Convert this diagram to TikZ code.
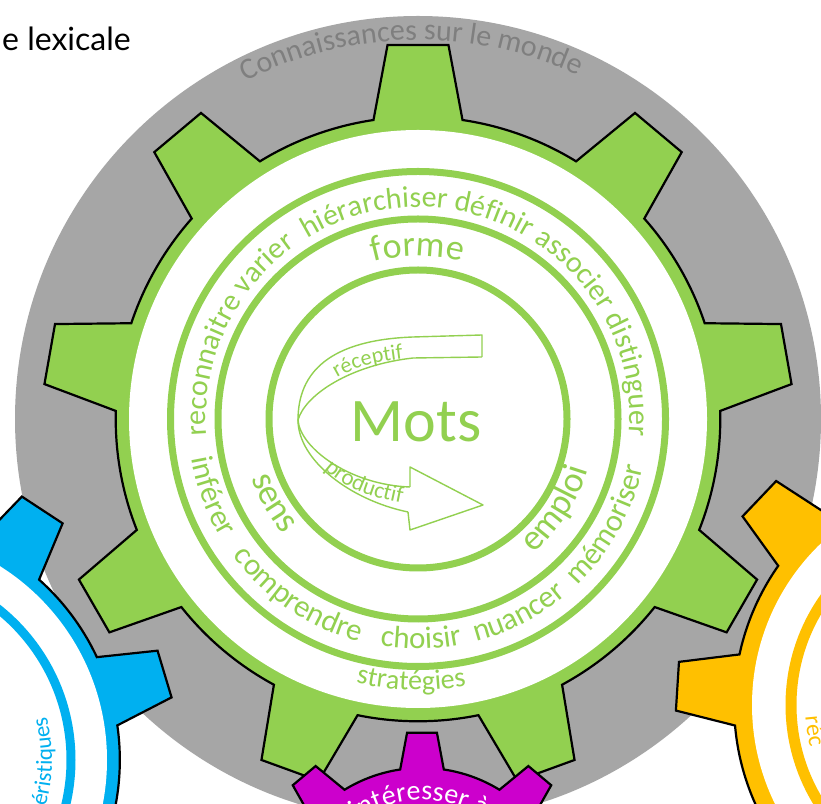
\documentclass[tikz,border=0pt]{standalone}
\usepackage{fontspec}
\setmainfont{Carlito}
\newfontfamily\handfont{Lato}
\usetikzlibrary{decorations.text}
\definecolor{ggreen}{HTML}{92D050}
\definecolor{ggrey}{HTML}{A6A6A6}
\definecolor{gblue}{HTML}{00B0F0}
\definecolor{gorange}{HTML}{FFC000}
\definecolor{gmag}{HTML}{CC00CC}
\definecolor{tgrey}{HTML}{7F7F7F}

% gear outline: center x, center y, scale, angle of first tooth, fill colour
\newcommand\gearshape[5]{%
  \begin{scope}[shift={(#1,#2)}]
  \filldraw[fill=#5, draw=black, line width=2.2pt, line join=miter]
    ({#4-8.47}:{302.3*#3})
    \foreach \k in {0,...,8}{
      -- ({#4+40*\k-4.66}:{375.2*#3}) -- ({#4+40*\k+4.66}:{375.2*#3})
      -- ({#4+40*\k+8.47}:{302.3*#3})
      arc[start angle={#4+40*\k+8.47}, end angle={#4+40*\k+31.53}, radius={302.3*#3}]
    } -- cycle;
  \end{scope}}

% text on a circular arc: cx, cy, r, start, end, font, colour, align, text
\newcommand\arcpath[9]{%
  \path[decorate, decoration={text along path, text align=#8, text color=#7,
    text={|#6|#9}}] ({#1},{#2}) ++({#4}:{#3}) arc[start angle={#4}, end angle={#5}, radius={#3}];}

\begin{document}
\begin{tikzpicture}[x=1pt,y=1pt]
\useasboundingbox (0,0) rectangle (821,803);
\clip (0,0) rectangle (821,803);
\fill[white] (0,0) rectangle (821,803);

% grey world circle
\fill[ggrey] (418,384) circle[radius=403];
\arcpath{418}{384}{379}{181}{1}{\fontsize{30}{36}\selectfont}{tgrey}{center}{Connaissances sur le monde}

% green gear
\gearshape{418}{384}{1}{10}{ggreen}
\fill[white] (418,384) circle[radius=289];
\draw[ggreen, line width=7] (418,384) circle[radius=247.5];
\draw[ggreen, line width=7] (418,384) circle[radius=200];
\draw[ggreen, line width=7] (418,384) circle[radius=149];

\arcpath{418}{384}{212}{190}{-10}{\fontsize{30}{36}\selectfont}{ggreen}{center}{reconnaitre varier{\ } hiérarchiser définir associer distinguer}
\arcpath{418}{384}{230}{178}{360}{\fontsize{31}{37}\selectfont}{ggreen}{center}{inférer{\ }{\ } comprendre{\ }{\ } choisir{\ } nuancer{\ } mémoriser}
\arcpath{418}{384}{163}{150}{30}{\fontsize{36}{42}\selectfont}{ggreen}{center}{forme}
\arcpath{418}{384}{177}{170}{250}{\fontsize{36}{42}\selectfont}{ggreen}{center}{sens}
\arcpath{418}{384}{177}{287}{367}{\fontsize{36}{42}\selectfont}{ggreen}{center}{emploi}
\arcpath{418}{384}{271}{228}{309}{\fontsize{28}{34}\selectfont}{ggreen}{center}{stratégies}

% receptive / productive ribbon arrow
\begin{scope}[draw=ggreen, line width=1.4pt, line join=round]
\draw (482,446) -- (482,468) -- (413,466) .. controls (330,463) and (298,431) .. (298,383);
\draw (482,446) -- (413,445) .. controls (350,438) and (305,408) .. (298,383);
\draw (298,383) .. controls (298,343) and (350,303) .. (408,291);
\draw (298,383) .. controls (300,355) and (350,318) .. (410,316);
\draw (410,316) -- (410,336) -- (483,298) -- (410,273) -- (408,291);
\end{scope}
\path[decorate, decoration={text along path, text align=left, text color=ggreen,
  text={|\fontsize{22}{26}\selectfont|réceptif}}]
  (337,425) .. controls (357,437) and (382,444) .. (440,447);
\path[decorate, decoration={text along path, text align=left, text color=ggreen,
  text={|\fontsize{23}{27}\selectfont|productif}}]
  (324,334) .. controls (345,314) and (375,302) .. (435,295);
\node[font=\fontsize{62}{70}\selectfont, text=ggreen, anchor=base, inner sep=0] (mots) at (416,361) {Mots};

% blue gear
\gearshape{-122}{43}{0.8}{16.7}{gblue}
\fill[white] (-122,43) circle[radius=229];
\draw[gblue, line width=9] (-122,43) circle[radius=193];
\arcpath{-122}{43}{174}{-40}{14.5}{\fontsize{23}{28}\selectfont}{gblue}{right}{éristiques}

% orange gear
\gearshape{976}{98}{0.8}{16.4}{gorange}
\fill[white] (976,98) circle[radius=224];
\draw[gorange, line width=11] (976,98) circle[radius=185];
\arcpath{976}{98}{171}{184}{260}{\fontsize{24}{29}\selectfont}{gorange}{left}{réc}

% magenta gear
\gearshape{422}{-113}{0.49}{10}{gmag}
\arcpath{422}{-113}{116}{133}{20}{\fontsize{28}{33}\selectfont}{white}{left}{s'intéresser à}

% title fragment
\node[font=\handfont\fontsize{32}{38}\selectfont, anchor=base west, inner sep=0] (title) at (2,752) {e lexicale};
\end{tikzpicture}
\end{document}
